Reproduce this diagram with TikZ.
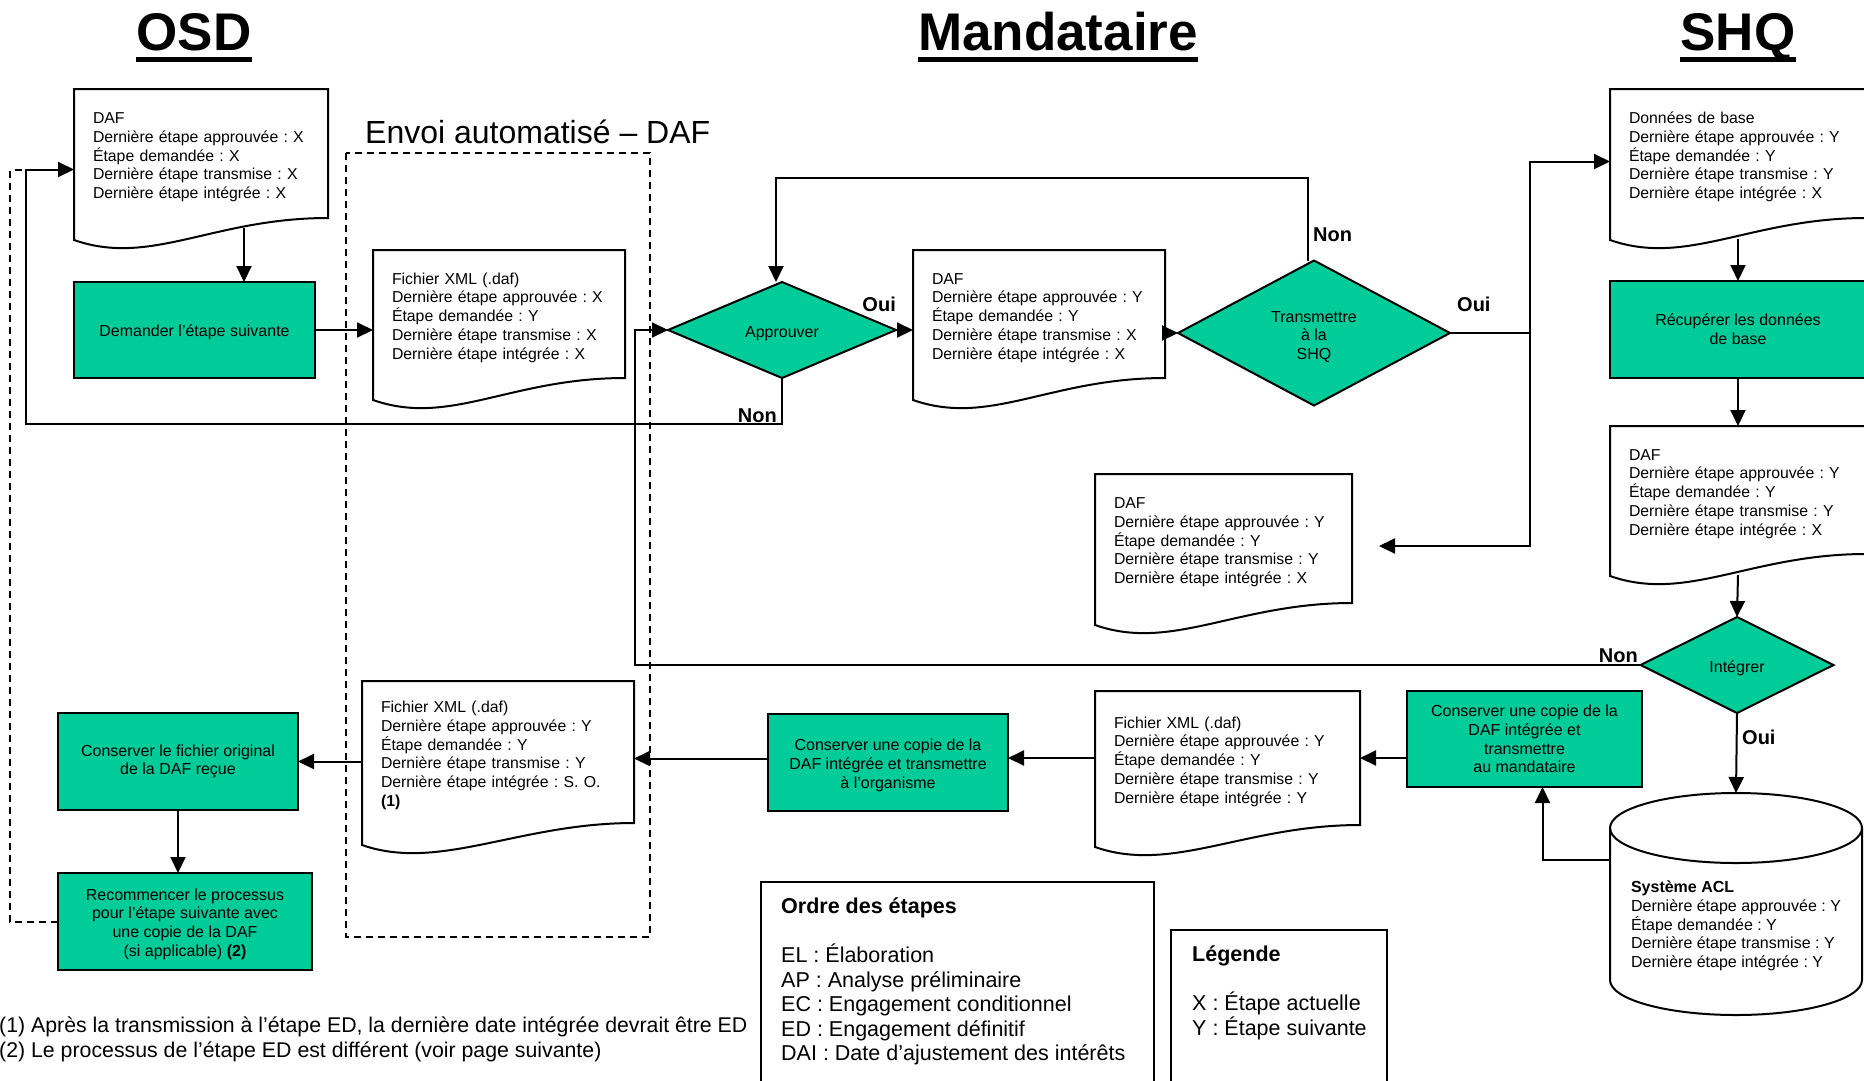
\documentclass[tikz,border=0pt]{standalone}
\usepackage{fontspec}
\setmainfont{Liberation Sans}
\frenchspacing
\usetikzlibrary{shapes.geometric,arrows.meta}
\definecolor{vert}{RGB}{0,204,153}

\begin{document}
\begin{tikzpicture}[x=1pt,y=-1pt,font=\fontsize{16}{18.7}\selectfont,
  trait/.style={line width=2pt},
  fleche/.style={line width=2pt,-{Triangle[length=16pt,width=15pt]}},
  pointille/.style={line width=2pt,dash pattern=on 7pt off 5pt},
  titre/.style={font=\fontsize{53}{60}\selectfont\bfseries,inner sep=0pt,anchor=base},
  rep/.style={font=\fontsize{20}{24}\selectfont\bfseries,inner sep=1pt},
  tache/.style={draw,line width=2pt,fill=vert,anchor=north west,align=center,inner sep=0pt,outer sep=0pt,
    execute at begin node={\rule{0pt}{15.5pt}}},
  choix/.style={diamond,draw,line width=2pt,fill=vert,align=center,inner sep=0pt,outer sep=0pt,
    execute at begin node={\rule{0pt}{17.5pt}}},
  docu/.style={anchor=north west,align=left,inner xsep=19pt,inner ysep=0pt,outer sep=0pt,
    font=\fontsize{15.8}{18.7}\selectfont,execute at begin node={\rule{0pt}{18.5pt}},
    append after command={\pgfextra{\draw[trait] (\tikzlastnode.north west) -- (\tikzlastnode.north east)
      -- (\tikzlastnode.south east) .. controls +(-115,0) and +(77,27) .. ([yshift=-22pt]\tikzlastnode.south west) -- cycle;}}},
  legende/.style={draw,line width=1.5pt,anchor=north west,inner sep=0pt,outer sep=0pt},
  note/.style={font=\fontsize{21.5}{24.5}\selectfont,anchor=north west,align=left,inner sep=0pt}]
\useasboundingbox (0,0) rectangle (1864,1080);
\clip (0,0) rectangle (1864,1080);

% titres
\node[titre] (osd) at (194,50) {OSD};
\node[titre] (mand) at (1058,50) {Mandataire};
\node[titre] (shq) at (1738,50) {SHQ};
\draw[line width=5pt] ([yshift=-9.5pt]osd.base west) -- ([yshift=-9.5pt]osd.base east);
\draw[line width=5pt] ([yshift=-9.5pt]mand.base west) -- ([yshift=-9.5pt]mand.base east);
\draw[line width=5pt] ([yshift=-9.5pt]shq.base west) -- ([yshift=-9.5pt]shq.base east);

\node[anchor=base west,font=\fontsize{32}{36}\selectfont,inner sep=0pt] (envoi) at (365,143) {Envoi automatisé – DAF};
\draw[pointille] (346,153) rectangle (650,937);

% coins des liens
\coordinate (retour) at (26,424);
\coordinate (bord) at (10,170);
\coordinate (montee) at (635,664);
\coordinate (haut) at (1000,178);
\coordinate (fourche) at (1530,333);
\coordinate (vers) at (1379,546);

% OSD
\node[docu,text width=216pt,minimum height=129pt] (d1) at (74,89) {DAF\\Dernière étape approuvée : X\\Étape demandée : X\\Dernière étape transmise : X\\Dernière étape intégrée : X};
\node[tache,minimum width=241pt,minimum height=96pt] (ask) at (74,282) {Demander l’étape suivante};
\node[tache,minimum width=240pt,minimum height=97pt] (orig) at (58,713) {Conserver le fichier original\\de la DAF reçue};
\node[tache,minimum width=254pt,minimum height=97pt] (restart) at (58,873) {\rule{0pt}{16.5pt}Recommencer le processus\\pour l’étape suivante avec\\une copie de la DAF\\(si applicable) \textbf{(2)}};

% envoi automatise
\node[docu,text width=214pt,minimum height=128pt] (xml1) at (373,250) {Fichier XML (.daf)\\Dernière étape approuvée : X\\Étape demandée : Y\\Dernière étape transmise : X\\Dernière étape intégrée : X};
\node[docu,text width=234pt,minimum height=142pt] (xml2) at (362,681) {Fichier XML (.daf)\\Dernière étape approuvée : Y\\Étape demandée : Y\\Dernière étape transmise : Y\\Dernière étape intégrée : S. O.\\\textbf{(1)}};

% Mandataire
\node[choix,minimum width=228pt,minimum height=96pt] (appr) at (782,330) {Approuver};
\node[docu,text width=214pt,minimum height=128pt] (d2) at (913,250) {DAF\\Dernière étape approuvée : Y\\Étape demandée : Y\\Dernière étape transmise : X\\Dernière étape intégrée : X};
\node[choix,minimum width=272pt,minimum height=145pt] (trans) at (1314,333) {\rule{0pt}{18.5pt}Transmettre\\à la\\SHQ};
\node[docu,text width=219pt,minimum height=129pt] (d3) at (1095,474) {DAF\\Dernière étape approuvée : Y\\Étape demandée : Y\\Dernière étape transmise : Y\\Dernière étape intégrée : X};
\node[docu,text width=227pt,minimum height=134pt] (xml3) at (1095,691) {Fichier XML (.daf)\\Dernière étape approuvée : Y\\Étape demandée : Y\\Dernière étape transmise : Y\\Dernière étape intégrée : Y};
\node[tache,minimum width=240pt,minimum height=97pt] (keepB) at (768,714) {\rule{0pt}{17.5pt}Conserver une copie de la\\DAF intégrée et transmettre\\à l’organisme};

% SHQ
\node[docu,text width=218pt,minimum height=129pt] (shq1) at (1610,89) {Données de base\\Dernière étape approuvée : Y\\Étape demandée : Y\\Dernière étape transmise : Y\\Dernière étape intégrée : X};
\node[tache,minimum width=256pt,minimum height=97pt] (recup) at (1610,281) {Récupérer les données\\de base};
\node[docu,text width=218pt,minimum height=128pt] (shq2) at (1610,426) {DAF\\Dernière étape approuvée : Y\\Étape demandée : Y\\Dernière étape transmise : Y\\Dernière étape intégrée : X};
\node[choix,minimum width=193pt,minimum height=96pt] (integ) at (1737,665) {Intégrer};
\node[minimum width=252pt,minimum height=222pt,inner sep=0pt,outer sep=0pt] (acl) at (1736,904) {};
\draw[trait] ([yshift=-35pt]acl.north) ellipse [x radius=126pt,y radius=35pt];
\draw[trait] ([yshift=-35pt]acl.north west) -- ([yshift=35pt]acl.south west) arc[start angle=180,end angle=360,x radius=126pt,y radius=35pt] -- ([yshift=-35pt]acl.north east);
\node[align=left,inner sep=0pt] (acltxt) at ([yshift=-22pt]acl.center) {\textbf{Système ACL}\\Dernière étape approuvée : Y\\Étape demandée : Y\\Dernière étape transmise : Y\\Dernière étape intégrée : Y};
\node[tache,minimum width=235pt,minimum height=96pt] (keepA) at (1407,691) {Conserver une copie de la\\DAF intégrée et\\transmettre\\au mandataire};

% Oui / Non
\node[rep,anchor=south east] (nonA) at (778,424) {Non};
\node[rep,anchor=south east] (ouiA) at (897,313) {Oui};
\node[rep,anchor=south west] (nonT) at (1312,243) {Non};
\node[rep,anchor=south west] (ouiT) at (1456,313) {Oui};
\node[rep,anchor=south east] (nonI) at (1639,664) {Non};
\node[rep,anchor=south west] (ouiI) at (1741,746) {Oui};

% liens
\draw[fleche] ([xshift=43pt,yshift=-10pt]d1.south) -- ([xshift=43pt]d1.south |- ask.north);
\draw[fleche] (ask.east) -- (ask.east -| xml1.west);
\draw[fleche] (appr.south) |- (retour) |- ([yshift=-16pt]d1.west);
\draw[pointille] (restart.west) -| (bord) -- (retour |- bord);
\draw[fleche] (integ.west) -- (integ.west -| montee) |- (appr.west);
\draw[fleche] (appr.east) -- (appr.east -| d2.west);
\draw[fleche] (trans.west -| d2.east) -- (trans.west);
\draw[fleche] ([xshift=-6pt]trans.north) |- (haut) -| ([xshift=-6pt]appr.north);
\draw[trait] (trans.east) -- (fourche);
\draw[fleche] (fourche) |- ([yshift=-8pt]shq1.west);
\draw[fleche] (fourche) |- (vers);
\draw[fleche] ([yshift=-21pt]shq1.south) -- (recup.north);
\draw[fleche] (recup.south) -- (shq2.north);
\draw[fleche] ([yshift=-21pt]shq2.south) -- (integ.north);
\draw[fleche] (integ.south) -- (acl.north);
\draw[fleche] ([yshift=44pt]acl.west) -| ([xshift=18pt]keepA.south);
\draw[fleche] (xml3.east -| keepA.west) -- (xml3.east);
\draw[fleche] (xml3.west) -- (xml3.west -| keepB.east);
\draw[fleche] ([yshift=4pt]keepB.west) -- ([yshift=4pt]keepB.west -| xml2.east);
\draw[fleche] (xml2.west |- orig.east) -- (orig.east);
\draw[fleche] (orig.south) -- (orig.south |- restart.north);

% legendes
\node[legende,minimum width=393pt,minimum height=230pt] (ordre) at (761,882) {};
\node[note] (ordretxt) at ([xshift=20pt,yshift=-16pt]ordre.north west) {\textbf{Ordre des étapes}\\[24.5pt]EL : Élaboration\\AP : Analyse préliminaire\\EC : Engagement conditionnel\\ED : Engagement définitif\\DAI : Date d’ajustement des intérêts};
\node[legende,minimum width=216pt,minimum height=180pt] (leg) at (1171,930) {};
\node[note] (legtxt) at ([xshift=21pt,yshift=-16pt]leg.north west) {\textbf{Légende}\\[24.5pt]X : Étape actuelle\\Y : Étape suivante};
\node[note,font=\fontsize{21.3}{25}\selectfont] (notes) at (-1,1016.5) {(1) Après la transmission à l’étape ED, la dernière date intégrée devrait être ED\\(2) Le processus de l’étape ED est différent (voir page suivante)};
\end{tikzpicture}
\end{document}
